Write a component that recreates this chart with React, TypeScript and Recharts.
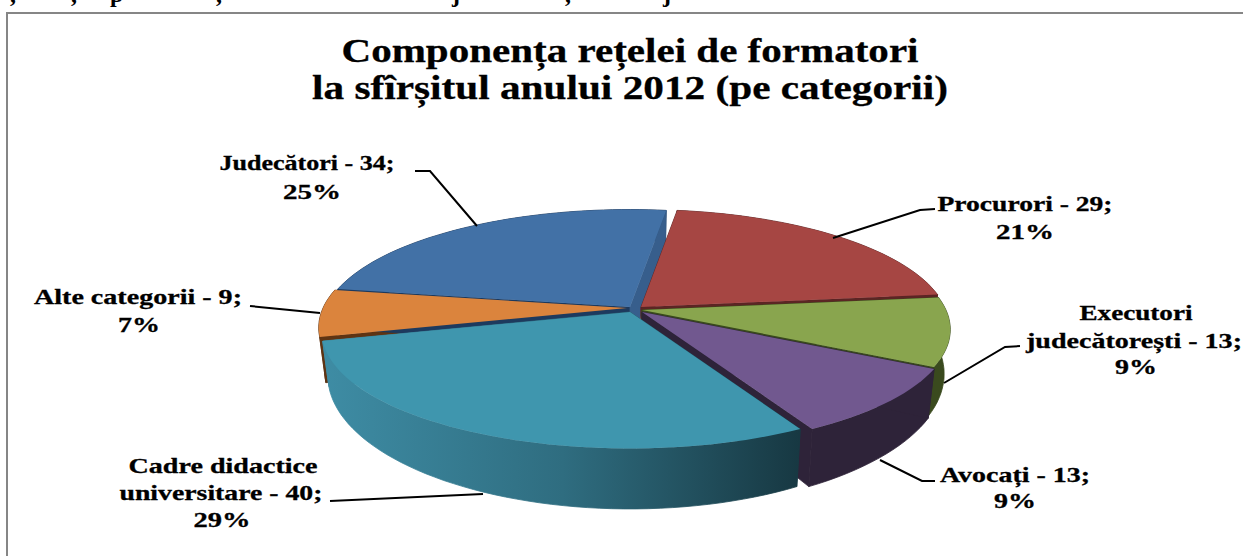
import React from 'react';
import { PieChart, Pie } from 'recharts';

const categories = ['Alte categorii', 'Judecători', 'Procurori', 'Executori judecătorești', 'Avocați', 'Cadre didactice universitare'];
const counts = [9, 34, 29, 13, 13, 40];
const percents = [7, 25, 21, 9, 9, 29];
const topColors = ['#DB843D', '#4271A6', '#A64643', '#89A54E', '#71588F', '#3F96AE'];
const wallColors = ['#5E3413', '#1D3A5E', '#5C2524', '#3A4A1E', '#2E2339', 'url(#tealWall)'];
const cutColors = ['#5E3413', '#375E8C', '#5C2524', '#3A4A1E', '#2E2339', 'url(#tealWall)'];

// how far each slice is pulled out of the common centre
const offsets = [[-5, -2], [-2, -3], [9, -3], [10, 0], [10, 2], [-2, 2]];

const titleLines = ['Componența rețelei de formatori', 'la sfîrșitul anului 2012 (pe categorii)'];
const croppedLine = [',', ',', 'p', ',', 'j', ',', 'j'];
const croppedX = [10, 71, 110, 216, 452, 565, 663];

// text lines: [first part of the label, centre x, baseline, stretched width]
const labelLayout: [string, number, number, number][][] = [
  [['Alte categorii', 138, 304, 208], ['', 139, 332, 42]],
  [['Judecători', 307, 170, 175], ['', 312, 199, 58]],
  [['Procurori', 1025, 211, 175], ['', 1025, 239, 58]],
  [['Executori', 1136, 320, 113], ['judecătorești', 1134, 348, 216], ['', 1136, 374, 42]],
  [['Avocați', 1015, 482, 150], ['', 1015, 508, 42]],
  [['Cadre didactice', 223, 473, 189], ['universitare', 221, 500, 203], ['', 222, 527, 57]],
];
const leaders = [
  '250,306 320,313',
  '415,171 430,171 477,226',
  '935,209 920,210 833,238',
  '1020,346 1005,347 944,383',
  '935,481 922,481 880,460',
  '330,501 483,494',
];

const pieData = categories.map((name, i) => ({ name, value: counts[i], index: i }));

const TILT = 0.374;
const PERSPECTIVE = 1 / 6;
const DEPTH = 42;
const RAD = Math.PI / 180;

// projects an angle on the pie rim to the tilted face, relative to the slice apex
const project = (radius: number, angle: number) => {
  const sin = Math.sin(angle * RAD);
  const s = 1 / (1 + PERSPECTIVE * sin);
  return { x: radius * Math.cos(angle * RAD) * s, y: -radius * TILT * sin * s, s };
};

const rimPoints = (radius: number, start: number, end: number) => {
  const steps = Math.max(2, Math.ceil(Math.abs(end - start) / 2));
  return Array.from({ length: steps + 1 }, (_, i) => project(radius, start + ((end - start) * i) / steps));
};

const toLower = (p: { x: number; y: number; s: number }) => ({
  x: p.x * 0.98,
  y: p.y + DEPTH * p.s * p.s,
});

const toPath = (points: { x: number; y: number }[], ox: number, oy: number) =>
  'M' + points.map((p) => `${(p.x + ox).toFixed(1)},${(p.y + oy).toFixed(1)}`).join('L') + 'Z';

const WallShape = (props: any) => {
  const { cx, cy, outerRadius, startAngle, endAngle, payload } = props;
  const i = payload.index;
  const ox = cx + offsets[i][0];
  const oy = cy + offsets[i][1];
  const rim = rimPoints(outerRadius, startAngle, endAngle);
  const lower = rim.map(toLower);
  const apex = { x: 0, y: 0 };
  const apexLow = { x: 0, y: DEPTH };
  const first = rim[0];
  const last = rim[rim.length - 1];
  return (
    <g strokeWidth={0.8}>
      <path d={toPath([...rim, ...lower.slice().reverse()], ox, oy)} fill={wallColors[i]} stroke={wallColors[i]} />
      <path d={toPath([apex, first, toLower(first), apexLow], ox, oy)} fill={wallColors[i]} stroke={wallColors[i]} />
      <path d={toPath([apex, last, toLower(last), apexLow], ox, oy)} fill={cutColors[i]} stroke={cutColors[i]} />
    </g>
  );
};

const TopShape = (props: any) => {
  const { cx, cy, outerRadius, startAngle, endAngle, payload } = props;
  const i = payload.index;
  const rim = rimPoints(outerRadius, startAngle, endAngle);
  return <path d={toPath([{ x: 0, y: 0 }, ...rim], cx + offsets[i][0], cy + offsets[i][1])} fill={topColors[i]} />;
};

const renderLabel = (props: any) => {
  const i = props.payload?.index ?? props.index;
  const lines = labelLayout[i];
  return (
    <g key={`label-${i}`}>
      <polyline points={leaders[i]} fill="none" stroke="#000" strokeWidth={2} />
      {lines.map(([part, x, y, width], n) => {
        // last line is the percent, the one before it carries the count
        let text = part;
        if (n === lines.length - 1) text = `${percents[i]}%`;
        else if (n === lines.length - 2) text = `${part} - ${counts[i]};`;
        return (
          <text
            key={n}
            x={x}
            y={y}
            textAnchor="middle"
            textLength={width}
            lengthAdjust="spacingAndGlyphs"
            fontFamily="Liberation Serif"
            fontWeight="bold"
            fontSize={21}
            fill="#000"
            stroke="#000"
            strokeWidth={0.3}
          >
            {text}
          </text>
        );
      })}
    </g>
  );
};

const App = () => {
  return (
    <div style={{ position: 'absolute', left: 0, top: 0, width: 1243, height: 556, background: '#fff' }}>
      <PieChart width={1243} height={556} margin={{ top: 0, right: 0, bottom: 0, left: 0 }}>
        <defs>
          <linearGradient id="tealWall" gradientUnits="userSpaceOnUse" x1={325} x2={800} y1={0} y2={0}>
            <stop offset="0" stopColor="#3E8CA4" />
            <stop offset="0.5" stopColor="#2F6D80" />
            <stop offset="1" stopColor="#173842" />
          </linearGradient>
        </defs>
        <text fontFamily="Liberation Serif" fontWeight="bold" fontSize={24} fill="#000">
          {croppedLine.map((c, i) => (
            <tspan key={i} x={croppedX[i]} y={1.5}>{c}</tspan>
          ))}
        </text>
        <polyline points="7,556 7,13 1243,13" fill="none" stroke="#868686" strokeWidth={2} />
        <text x={630} y={62} textAnchor="middle" textLength={577} lengthAdjust="spacingAndGlyphs" fontFamily="Liberation Serif" fontWeight="bold" fontSize={34} fill="#000" stroke="#000" strokeWidth={0.3}>
          {titleLines[0]}
        </text>
        <text x={630} y={99} textAnchor="middle" textLength={636} lengthAdjust="spacingAndGlyphs" fontFamily="Liberation Serif" fontWeight="bold" fontSize={34} fill="#000" stroke="#000" strokeWidth={0.3}>
          {titleLines[1]}
        </text>
        <Pie
          data={pieData}
          dataKey="value"
          cx={632}
          cy={310}
          outerRadius={304}
          startAngle={194.2}
          endAngle={-165.8}
          stroke="none"
          shape={WallShape}
          isAnimationActive={false}
        />
        <Pie
          data={pieData}
          dataKey="value"
          cx={632}
          cy={310}
          outerRadius={304}
          startAngle={194.2}
          endAngle={-165.8}
          stroke="none"
          shape={TopShape}
          label={renderLabel}
          labelLine={false}
          isAnimationActive={false}
        />
      </PieChart>
    </div>
  );
};

export default App;
